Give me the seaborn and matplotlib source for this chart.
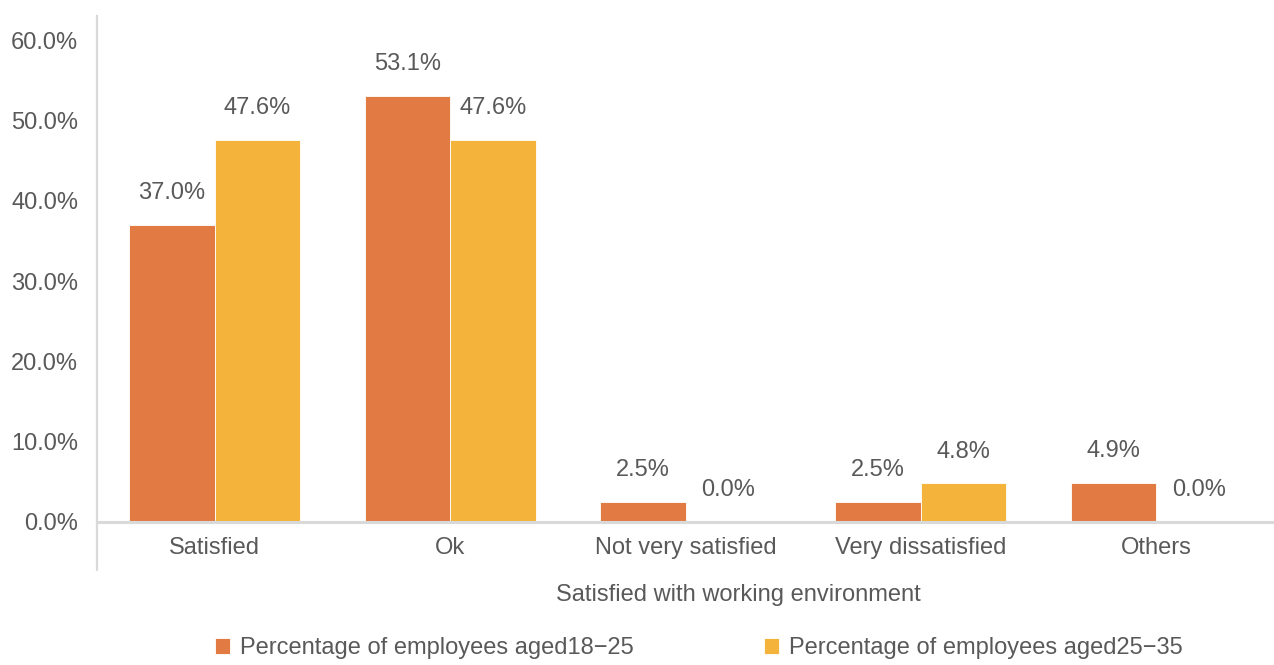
import matplotlib
matplotlib.use("Agg")
import matplotlib.pyplot as plt
import seaborn as sns
import pandas as pd
from matplotlib.ticker import PercentFormatter

categories = ["Satisfied", "Ok", "Not very satisfied", "Very dissatisfied", "Others"]
series_names = ["Percentage of employees aged18\u221225", "Percentage of employees aged25\u221235"]
values_18_25 = [0.370, 0.531, 0.025, 0.025, 0.049]
values_25_35 = [0.476, 0.476, 0.000, 0.048, 0.000]
y_ticks = [0.0, 0.1, 0.2, 0.3, 0.4, 0.5, 0.6]
x_title = "Satisfied with working environment"

df = pd.DataFrame({
    "category": categories * 2,
    "series": [series_names[0]] * len(categories) + [series_names[1]] * len(categories),
    "value": values_18_25 + values_25_35,
})

sns.set_theme(style="white")
plt.rcParams["font.family"] = ["Liberation Sans", "DejaVu Sans"]
text_color = "#595959"
spine_color = "#D9D9D9"
colors = ["#E27B43", "#F4B33A"]
fs = 17

fig = plt.figure(figsize=(12.74, 6.65), dpi=100)
ax = fig.add_axes([97 / 1274, 1 - 522 / 665, 1 - 97 / 1274, (522 - 16) / 665])

sns.barplot(data=df, x="category", y="value", hue="series", order=categories,
            hue_order=series_names, palette=colors, saturation=1, width=0.727, ax=ax,
            edgecolor="white", linewidth=0.6, legend=True)

ax.set_xlim(-0.5, 4.5)
ax.set_ylim(0, 0.63)
ax.set_yticks(y_ticks)
ax.yaxis.set_major_formatter(PercentFormatter(1.0, decimals=1))
ax.tick_params(axis="both", length=0, labelsize=fs, colors=text_color)
ax.tick_params(axis="x", pad=10.5)
ax.tick_params(axis="y", pad=13.5)

for side in ["top", "right"]:
    ax.spines[side].set_visible(False)
ax.spines["left"].set_color(spine_color)
ax.spines["left"].set_linewidth(1.6)
ax.spines["bottom"].set_color(spine_color)
ax.spines["bottom"].set_linewidth(2.2)
# extend left separator below the axis
ax.plot([0, 0], [0, -48 / 506], transform=ax.transAxes, clip_on=False,
        color=spine_color, linewidth=1.6)

for container in ax.containers:
    labels = [f"{v * 100:.1f}%" for v in container.datavalues]
    ax.bar_label(container, labels=labels, padding=15, fontsize=fs, color=text_color)

ax.set_ylabel("")
ax.set_xlabel(x_title, fontsize=fs, color=text_color)
ax.xaxis.set_label_coords((738 - 97) / 1177, -62 / 506)

handles, labels = ax.get_legend_handles_labels()
ax.legend_.remove()
fig.legend(handles, labels, loc="center", bbox_to_anchor=(699 / 1274, 1 - 648 / 665),
           ncol=2, frameon=False, fontsize=fs, labelcolor=text_color,
           handlelength=0.65, handleheight=0.65, handletextpad=0.42, columnspacing=5.5)

fig.savefig("out.png", dpi=100)
